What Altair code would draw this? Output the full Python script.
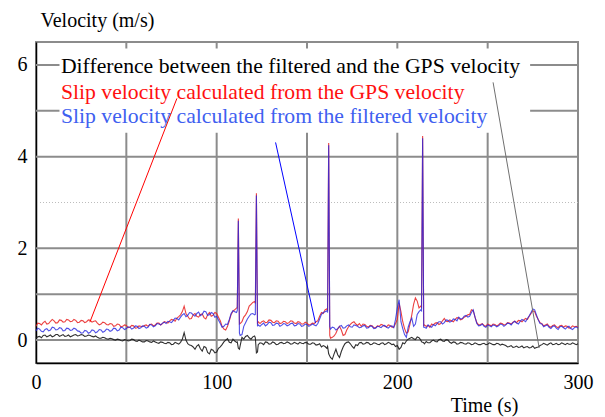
import altair as alt
import pandas as pd

# ---------------- data ----------------
# samples on even seconds
time_even = list(range(0, 301, 2))

slip_gps = [
    0.30, 0.36, 0.38, 0.35, 0.41, 0.42, 0.38, 0.43, 0.40, 0.44,
    0.41, 0.43, 0.39, 0.42, 0.40, 0.43, 0.41, 0.37, 0.35, 0.38,
    0.33, 0.35, 0.31, 0.34, 0.30, 0.32, 0.28, 0.31, 0.27, 0.30,
    0.32, 0.30, 0.35, 0.33, 0.37, 0.36, 0.39, 0.42, 0.44, 0.48,
    0.55, 0.74, 0.52, 0.47, 0.58, 0.50, 0.57, 0.46, 0.60, 0.54,
    0.58, 0.42, 0.24, 0.30, 0.56, 0.66, 2.65, 0.40, 0.55, 0.74,
    0.82, 3.20, 0.36, 0.42, 0.39, 0.43, 0.38, 0.41, 0.37, 0.40,
    0.38, 0.41, 0.36, 0.39, 0.35, 0.37, 0.34, 0.36, 0.42, 0.60,
    0.66, 4.30, 0.06, 0.15, 0.30, 0.10, 0.22, 0.34, 0.40, 0.32,
    0.30, 0.34, 0.28, 0.31, 0.27, 0.30, 0.33, 0.29, 0.32, 0.28,
    0.45, 0.62, 0.25, 0.18, 0.55, 0.92, 0.70, 4.45, 0.30, 0.28,
    0.33, 0.38, 0.36, 0.47, 0.40, 0.42, 0.45, 0.48, 0.46, 0.52,
    0.56, 0.64, 0.38, 0.34, 0.32, 0.35, 0.31, 0.34, 0.33, 0.36,
    0.34, 0.37, 0.39, 0.38, 0.42, 0.44, 0.45, 0.58, 0.62, 0.45,
    0.36, 0.33, 0.30, 0.32, 0.29, 0.31, 0.28, 0.30, 0.27, 0.29,
    0.28,
]

slip_filtered = [
    0.20, 0.24, 0.18, 0.25, 0.22, 0.27, 0.23, 0.26, 0.21, 0.25,
    0.22, 0.24, 0.19, 0.16, 0.20, 0.17, 0.21, 0.18, 0.22, 0.19,
    0.23, 0.21, 0.25, 0.22, 0.27, 0.25, 0.28, 0.26, 0.30, 0.27,
    0.30, 0.28, 0.33, 0.31, 0.35, 0.37, 0.36, 0.40, 0.43, 0.47,
    0.50, 0.58, 0.54, 0.59, 0.52, 0.61, 0.56, 0.62, 0.55, 0.58,
    0.52, 0.36, 0.30, 0.34, 0.58, 0.62, 2.60, 0.12, 0.38, 0.52,
    0.58, 3.15, 0.30, 0.37, 0.34, 0.38, 0.33, 0.36, 0.32, 0.35,
    0.33, 0.37, 0.32, 0.35, 0.31, 0.34, 0.32, 0.33, 0.36, 0.56,
    0.62, 4.25, 0.28, 0.22, 0.30, 0.26, 0.31, 0.29, 0.33, 0.30,
    0.28, 0.32, 0.27, 0.30, 0.26, 0.29, 0.31, 0.28, 0.30, 0.27,
    0.70, 0.40, 0.12, 0.28, 0.48, 0.35, 0.62, 4.40, 0.26, 0.30,
    0.34, 0.36, 0.40, 0.38, 0.43, 0.41, 0.45, 0.50, 0.47, 0.54,
    0.52, 0.66, 0.36, 0.32, 0.30, 0.33, 0.29, 0.32, 0.31, 0.34,
    0.33, 0.36, 0.38, 0.37, 0.41, 0.43, 0.47, 0.60, 0.66, 0.44,
    0.35, 0.31, 0.28, 0.30, 0.26, 0.29, 0.27, 0.28, 0.25, 0.27,
    0.26,
]

difference = [
    0.04, 0.08, 0.10, 0.07, 0.11, 0.09, 0.12, 0.10, 0.08, 0.11,
    0.09, 0.12, 0.10, 0.11, 0.09, 0.10, 0.07, 0.06, 0.04, 0.05,
    0.02, 0.03, 0.00, 0.01, -0.02, 0.00, -0.01, 0.01, -0.03, -0.02,
    -0.04, -0.02, -0.05, -0.04, -0.07, -0.05, -0.08, -0.06, -0.09, -0.07,
    -0.05, 0.16, -0.08, -0.12, -0.20, -0.10, -0.24, -0.16, -0.30, -0.22,
    -0.26, -0.15, -0.04, 0.03, -0.06, -0.02, -0.18, 0.06, 0.08, 0.05,
    0.07, -0.28, -0.06, -0.10, -0.05, -0.08, -0.06, -0.09, -0.05, -0.07,
    -0.06, -0.08, -0.07, -0.05, -0.08, -0.06, -0.09, -0.07, -0.10, -0.15,
    -0.14, -0.30, -0.42, -0.20, -0.38, -0.15, -0.05, -0.08, -0.18, -0.12,
    -0.05, -0.08, -0.06, -0.09, -0.07, -0.10, -0.06, -0.08, -0.07, -0.09,
    -0.12, -0.16, -0.08, 0.02, 0.06, 0.01, 0.05, -0.05, -0.03, -0.06,
    0.00, -0.04, 0.02, -0.03, 0.00, -0.07, -0.05, -0.08, -0.06, -0.09,
    -0.07, -0.09, -0.08, -0.10, -0.07, -0.09, -0.08, -0.10, -0.08, -0.09,
    -0.12, -0.14, -0.16, -0.13, -0.15, -0.17, -0.14, -0.16, -0.18, -0.15,
    -0.10, -0.09, -0.08, -0.10, -0.07, -0.09, -0.08, -0.07, -0.09, -0.08,
    -0.08,
]

# samples on odd seconds
time_odd = list(range(1, 300, 2))

slip_gps_odd = [
    0.37, 0.33, 0.41, 0.36, 0.45, 0.37, 0.44, 0.39, 0.45, 0.40,
    0.45, 0.38, 0.43, 0.38, 0.44, 0.39, 0.42, 0.33, 0.39, 0.34,
    0.36, 0.30, 0.35, 0.29, 0.33, 0.27, 0.32, 0.26, 0.31, 0.29,
    0.33, 0.34, 0.31, 0.37, 0.33, 0.40, 0.37, 0.45, 0.41, 0.51,
    0.62, 0.58, 0.46, 0.55, 0.52, 0.56, 0.49, 0.55, 0.52, 0.60,
    0.50, 0.30, 0.22, 0.42, 0.63, 0.70, 0.36, 0.50, 0.62, 0.78,
    0.84, 0.40, 0.40, 0.38, 0.44, 0.39, 0.42, 0.36, 0.41, 0.36,
    0.42, 0.37, 0.40, 0.35, 0.39, 0.33, 0.37, 0.40, 0.52, 0.58,
    0.68, 0.04, 0.09, 0.24, 0.22, 0.12, 0.29, 0.38, 0.35, 0.36,
    0.35, 0.30, 0.32, 0.27, 0.31, 0.34, 0.30, 0.33, 0.28, 0.36,
    0.80, 0.40, 0.15, 0.35, 0.78, 0.85, 0.74, 0.33, 0.32, 0.35,
    0.37, 0.34, 0.42, 0.41, 0.44, 0.40, 0.49, 0.44, 0.50, 0.55,
    0.66, 0.50, 0.33, 0.36, 0.30, 0.33, 0.35, 0.31, 0.37, 0.33,
    0.38, 0.35, 0.41, 0.43, 0.40, 0.47, 0.52, 0.64, 0.52, 0.38,
    0.31, 0.35, 0.28, 0.33, 0.27, 0.32, 0.31, 0.26, 0.31, 0.30,
]

slip_filtered_odd = [
    0.26, 0.19, 0.23, 0.20, 0.28, 0.22, 0.27, 0.20, 0.26, 0.21,
    0.26, 0.20, 0.15, 0.21, 0.15, 0.22, 0.16, 0.23, 0.17, 0.24,
    0.19, 0.26, 0.20, 0.28, 0.23, 0.29, 0.24, 0.31, 0.25, 0.31,
    0.26, 0.34, 0.29, 0.36, 0.33, 0.39, 0.41, 0.38, 0.48, 0.44,
    0.55, 0.51, 0.60, 0.55, 0.58, 0.53, 0.63, 0.54, 0.60, 0.50,
    0.44, 0.28, 0.35, 0.45, 0.64, 0.60, 0.10, 0.30, 0.46, 0.57,
    0.55, 0.33, 0.34, 0.31, 0.39, 0.32, 0.37, 0.30, 0.36, 0.31,
    0.36, 0.31, 0.36, 0.30, 0.35, 0.30, 0.35, 0.31, 0.46, 0.60,
    0.64, 0.24, 0.27, 0.25, 0.32, 0.27, 0.33, 0.28, 0.32, 0.27,
    0.31, 0.26, 0.31, 0.25, 0.30, 0.27, 0.32, 0.26, 0.31, 0.45,
    0.88, 0.25, 0.06, 0.40, 0.30, 0.56, 0.66, 0.28, 0.33, 0.28,
    0.31, 0.40, 0.35, 0.44, 0.39, 0.46, 0.42, 0.46, 0.52, 0.50,
    0.60, 0.50, 0.31, 0.35, 0.28, 0.31, 0.33, 0.29, 0.35, 0.30,
    0.37, 0.33, 0.41, 0.35, 0.45, 0.40, 0.53, 0.68, 0.55, 0.36,
    0.29, 0.33, 0.25, 0.31, 0.23, 0.30, 0.24, 0.30, 0.23, 0.29,
]

difference_odd = [
    0.07, 0.05, 0.11, 0.09, 0.07, 0.12, 0.08, 0.12, 0.09, 0.07,
    0.11, 0.09, 0.12, 0.08, 0.11, 0.08, 0.09, 0.04, 0.06, 0.03,
    0.04, 0.01, 0.02, -0.01, 0.01, -0.02, 0.02, -0.02, 0.00, -0.04,
    -0.01, -0.04, -0.02, -0.06, -0.04, -0.07, -0.05, -0.10, -0.05, -0.09,
    0.02, 0.00, -0.11, -0.15, -0.13, -0.19, -0.14, -0.27, -0.20, -0.28,
    -0.18, -0.10, 0.00, -0.05, 0.02, -0.05, -0.12, 0.02, 0.10, 0.02,
    0.09, -0.10, -0.07, -0.04, -0.09, -0.04, -0.10, -0.06, -0.08, -0.04,
    -0.09, -0.05, -0.09, -0.07, -0.05, -0.09, -0.06, -0.11, -0.08, -0.12,
    -0.18, -0.38, -0.30, -0.32, -0.25, -0.08, -0.04, -0.14, -0.10, -0.06,
    -0.09, -0.05, -0.10, -0.06, -0.09, -0.07, -0.10, -0.05, -0.10, -0.14,
    -0.20, -0.06, -0.02, 0.04, 0.03, 0.07, 0.00, -0.08, -0.06, -0.02,
    -0.03, 0.01, -0.02, 0.01, -0.05, -0.04, -0.09, -0.05, -0.08, -0.06,
    -0.10, -0.06, -0.10, -0.08, -0.10, -0.06, -0.10, -0.07, -0.11, -0.10,
    -0.15, -0.12, -0.15, -0.16, -0.13, -0.15, -0.17, -0.13, -0.16, -0.12,
    -0.07, -0.11, -0.06, -0.09, -0.10, -0.06, -0.10, -0.09, -0.06, -0.10,
]

# shoulders of the narrow spikes
spike_time = [111.4, 112.6, 121.4, 122.6, 161.4, 162.6, 213.4, 214.6]
spike_gps = [0.70, 0.35, 0.80, 0.34, 0.64, 0.10, 0.72, 0.32]
spike_filtered = [0.64, 0.15, 0.56, 0.30, 0.60, 0.30, 0.64, 0.28]
spike_difference = [-0.04, -0.20, 0.05, -0.26, -0.14, -0.35, -0.04, -0.06]

grid_y_solid = [0, 1, 2, 4, 5, 6]
grid_y_dotted = [3]
grid_x = [50, 100, 150, 200, 250]
y_ticks = [0, 2, 4, 6]
x_ticks = [0, 100, 200, 300]

legend_labels = [
    "Difference between the filtered and the GPS velocity",
    "Slip velocity calculated from the GPS velocity",
    "Slip velocity calculated from the filtered velocity",
]
legend_colors = ["#000000", "#ff1010", "#4060f0"]
legend_x = [13.8, 13.8, 13.8]
legend_y = [5.98, 5.42, 4.88]

# white box behind the legend texts (data units)
box_x = [13.0]
box_x2 = [273.5]
box_y = [4.52]
box_y2 = [6.36]

# pointer lines from legend entries to the curves (data units)
pointer_x = [253.0, 78.0, 132.6]
pointer_y = [5.62, 5.27, 4.31]
pointer_x2 = [278.5, 29.8, 154.7]
pointer_y2 = [-0.17, 0.39, 0.37]
pointer_colors = ["#707070", "#ff0000", "#0000ff"]

# ---------------- tables ----------------
even = pd.DataFrame({"t": time_even, "gps": slip_gps, "filt": slip_filtered, "diff": difference})
odd = pd.DataFrame({"t": time_odd, "gps": slip_gps_odd, "filt": slip_filtered_odd, "diff": difference_odd})
extra = pd.DataFrame({"t": spike_time, "gps": spike_gps, "filt": spike_filtered, "diff": spike_difference})
data = pd.concat([even, odd, extra]).sort_values("t").reset_index(drop=True)

FONT = "Liberation Serif"
FS = 20
xs = alt.Scale(domain=[0, 300], nice=False, zero=False)
ys = alt.Scale(domain=[-0.5, 6.5], nice=False, zero=False)
GRID = "#8c8c8c"

x_axis = alt.Axis(
    values=x_ticks, ticks=False, grid=False, domainColor="black", domainWidth=1.5,
    labelPadding=9, labelFlush=False, labelOverlap=False,
    labelFont=FONT, labelFontSize=FS, labelColor="black",
    title="Time (s)", titleX=448, titleY=42, titleAlign="center",
    titleBaseline="middle", titleAnchor="start",
    titleFont=FONT, titleFontSize=FS, titleFontWeight="normal", titleColor="black",
)
y_axis = alt.Axis(
    values=y_ticks, ticks=False, grid=False, domainColor="black", domainWidth=1.5,
    labelPadding=9, labelFlush=False, labelOverlap=False,
    labelFont=FONT, labelFontSize=FS, labelColor="black",
    title="Velocity (m/s)", titleAngle=0, titleX=4, titleY=-22,
    titleAlign="left", titleBaseline="middle", titleAnchor="start",
    titleFont=FONT, titleFontSize=FS, titleFontWeight="normal", titleColor="black",
)


def X(field):
    return alt.X(field, scale=xs, axis=x_axis)


def Y(field):
    return alt.Y(field, scale=ys, axis=y_axis)


grid_h = alt.Chart(pd.DataFrame({"v": grid_y_solid})).mark_rule(color=GRID, strokeWidth=2).encode(
    y=Y("v:Q")
)
grid_d = alt.Chart(pd.DataFrame({"v": grid_y_dotted})).mark_rule(
    color="#bdbdbd", strokeWidth=1, strokeDash=[1, 2]
).encode(y=Y("v:Q"))
grid_v = alt.Chart(pd.DataFrame({"v": grid_x})).mark_rule(color=GRID, strokeWidth=2).encode(
    x=X("v:Q")
)

box = alt.Chart(pd.DataFrame({"x": box_x, "x2": box_x2, "y": box_y, "y2": box_y2})).mark_rect(
    color="white"
).encode(x=X("x:Q"), x2="x2:Q", y=Y("y:Q"), y2="y2:Q")

base = alt.Chart(data)
line_diff = base.mark_line(color="#1a1a1a", strokeWidth=1.1, opacity=0.9).encode(
    x=X("t:Q"), y=Y("diff:Q")
)
line_gps = base.mark_line(color="#e82020", strokeWidth=1.1, opacity=0.85).encode(
    x=X("t:Q"), y=Y("gps:Q")
)
line_filt = base.mark_line(color="#2424e0", strokeWidth=1.1, opacity=0.8).encode(
    x=X("t:Q"), y=Y("filt:Q")
)

pointers = alt.Chart(pd.DataFrame({
    "x": pointer_x, "y": pointer_y, "x2": pointer_x2, "y2": pointer_y2, "c": pointer_colors
})).mark_rule(strokeWidth=1).encode(
    x=X("x:Q"), y=Y("y:Q"), x2="x2:Q", y2="y2:Q",
    color=alt.Color("c:N", scale=None),
)

texts = alt.Chart(pd.DataFrame({
    "x": legend_x, "y": legend_y, "label": legend_labels, "c": legend_colors
})).mark_text(align="left", baseline="middle", font=FONT, fontSize=21.7).encode(
    x=X("x:Q"), y=Y("y:Q"),
    text="label:N", color=alt.Color("c:N", scale=None),
)

chart = alt.layer(
    grid_h, grid_d, grid_v, line_diff, line_gps, line_filt, box, pointers, texts
).properties(
    width=542, height=321,
    padding={"left": 36, "top": 42, "right": 27, "bottom": 54},
    autosize=alt.AutoSizeParams(type="none"),
    background="white",
).configure_view(
    stroke=GRID, strokeWidth=2
)

chart.save("out.html", embed_options={"renderer": "svg", "actions": False})
